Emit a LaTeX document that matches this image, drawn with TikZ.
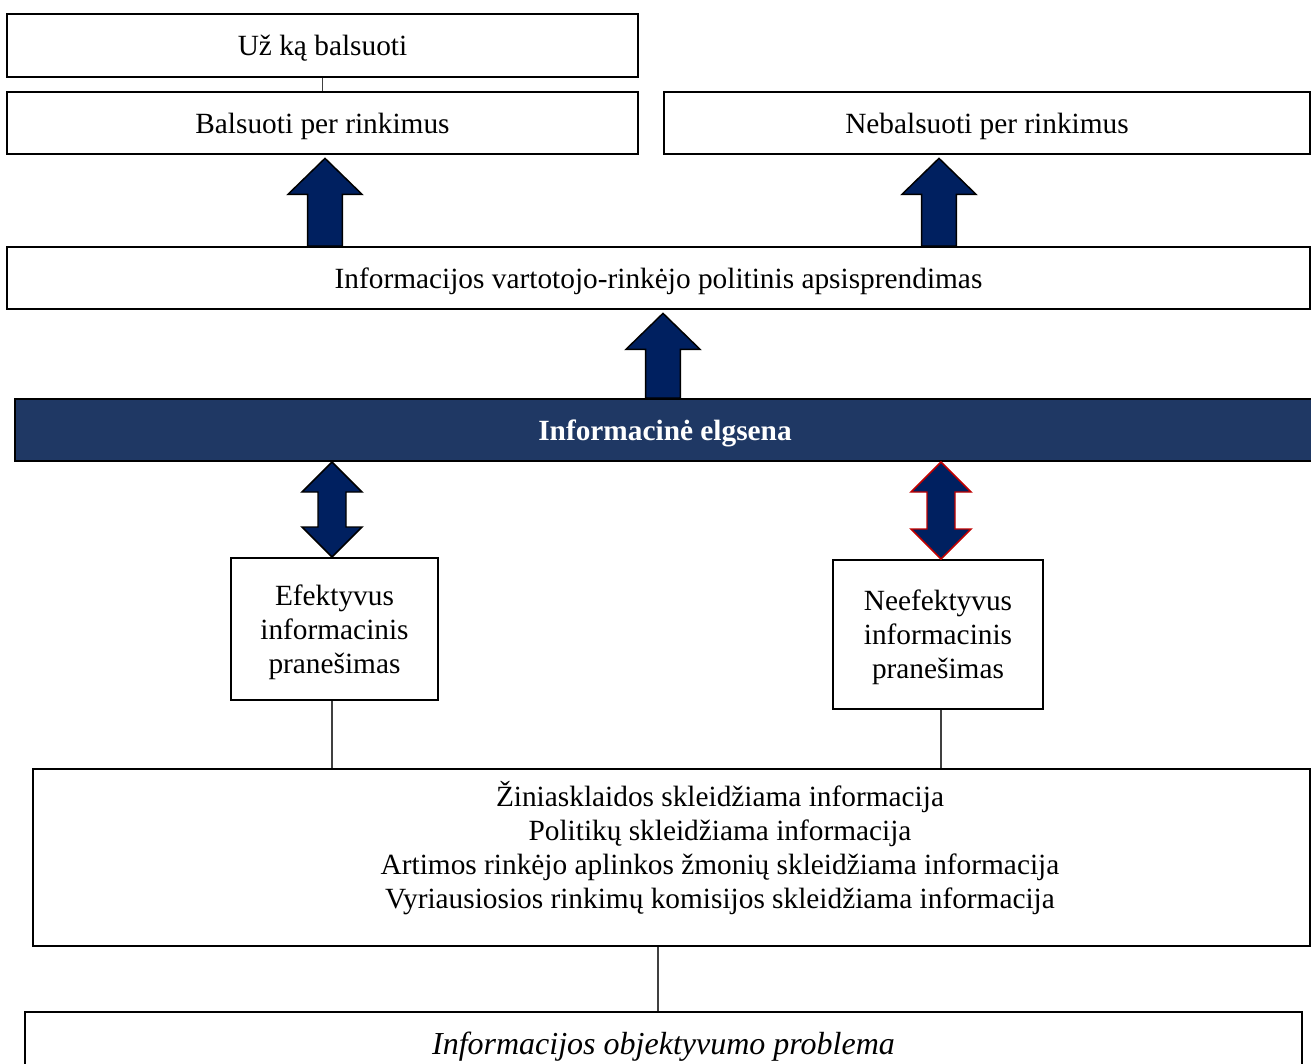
\documentclass[tikz,border=0pt]{standalone}
\usepackage{fontspec}
\setmainfont{Liberation Serif}
\usepackage{xcolor}
\usepackage{tikz}
\usetikzlibrary{calc,positioning}
\definecolor{arrowblue}{HTML}{002060}
\definecolor{barblue}{HTML}{1F3864}
\definecolor{outlinered}{HTML}{C00000}
\newcommand{\drawUpArrow}[4]
{
	% #1 x, #2 lower node, #3 upper node, #4 outline
	\draw[draw=#4,fill=arrowblue,line width=1.1pt]
	let \p1=(#1,0 |- #2.north), \p2=(#1,0 |- #3.south) in
	(\x1-13pt,\y1) -- (\x1-13pt,\y2-29.5pt) -- (\x1-27.75pt,\y2-29.5pt) -- (\x1,\y2-2.5pt)
	-- (\x1+27.75pt,\y2-29.5pt) -- (\x1+13pt,\y2-29.5pt) -- (\x1+13pt,\y1) -- cycle;
}
\newcommand{\drawBothArrow}[4]
{
	% #1 x, #2 lower node, #3 upper node, #4 outline
	\draw[draw=#4,fill=arrowblue,line width=1.1pt]
	let \p1=(#1,0 |- #2.north), \p2=(#1,0 |- #3.south) in
	(\x1,\y1) -- (\x1-22.5pt,\y1+22.5pt) -- (\x1-10.5pt,\y1+22.5pt) -- (\x1-10.5pt,\y2-22.5pt)
	-- (\x1-22.5pt,\y2-22.5pt) -- (\x1,\y2) -- (\x1+22.5pt,\y2-22.5pt) -- (\x1+10.5pt,\y2-22.5pt)
	-- (\x1+10.5pt,\y1+22.5pt) -- (\x1+22.5pt,\y1+22.5pt) -- cycle;
}

\begin{document}
\begin{tikzpicture}[x=0.75pt,y=-0.75pt,
	font=\fontsize{22}{25.5}\selectfont,
	boxsize/.style 2 args={minimum width=#1*0.75pt,minimum height=#2*0.75pt},
	box/.style={draw,line width=1.5pt,inner sep=0pt,align=center,text depth=0pt},
	link/.style={draw=black!75,line width=0.8pt}]
\useasboundingbox (0,0) rectangle (1311,1064);

\node[box,boxsize={631}{63}] (what) at (322.5,45.5) {Už ką balsuoti};
\node[box,boxsize={631}{62}] (yes) at (322.5,123) {Balsuoti per rinkimus};
\node[box,boxsize={646}{62}] (no) at (987,123) {Nebalsuoti per rinkimus};
\node[box,boxsize={1303}{62}] (decision) at (658.5,278) {Informacijos vartotojo-rinkėjo politinis apsisprendimas};
\node[box,boxsize={1300}{62},fill=barblue,text=white,font=\fontsize{22}{25.5}\selectfont\bfseries] (behaviour) at (665,430) {Informacinė elgsena};
\node[box,boxsize={207}{142}] (effective) at (334.5,629) {Efektyvus\\informacinis\\pranešimas};
\node[box,boxsize={210}{149}] (ineffective) at (938,634.5) {Neefektyvus\\informacinis\\pranešimas};
\node[box,boxsize={1277}{177}] (sources) at (671.5,857.5) {};
\node[align=center,inner sep=0pt,text depth=0pt] (sourcestext) at (720,845) {Žiniasklaidos skleidžiama informacija\\Politikų skleidžiama informacija\\Artimos rinkėjo aplinkos žmonių skleidžiama informacija\\Vyriausiosios rinkimų komisijos skleidžiama informacija};
\node[box,boxsize={1277}{62},font=\fontsize{24}{28}\selectfont\itshape] (problem) at (663.5,1043) {Informacijos objektyvumo problema};

\draw[link] (what) -- (yes);
\draw[link] (332,0 |- effective.south) -- (332,0 |- sources.north);
\draw[link] (941,0 |- ineffective.south) -- (941,0 |- sources.north);
\draw[link] (658,0 |- sources.south) -- (658,0 |- problem.north);

\drawUpArrow{325}{decision}{yes}{black}
\drawUpArrow{939}{decision}{no}{black}
\drawUpArrow{663}{behaviour}{decision}{black}
\drawBothArrow{332}{effective}{behaviour}{black}
\drawBothArrow{941}{ineffective}{behaviour}{outlinered}
\end{tikzpicture}
\end{document}
